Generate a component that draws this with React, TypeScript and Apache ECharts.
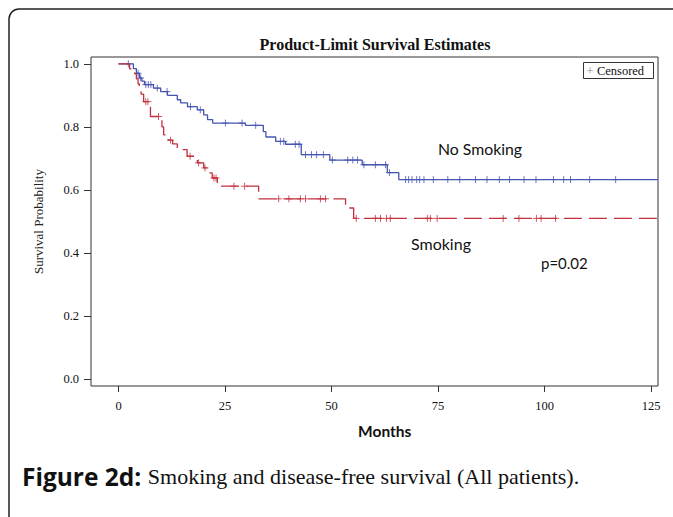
import React, { useEffect, useRef } from "react";
import * as echarts from "echarts";

// ---- Data ----
const xTickValues = [0, 25, 50, 75, 100, 125];
const yTickValues = [0, 0.2, 0.4, 0.6, 0.8, 1.0];

// No Smoking: event times (months) and survival after each event
const noSmokingTimes = [0, 3.5, 4.2, 4.9, 5.5, 6.1, 8.2, 9.9, 11.5, 13.8, 14.6, 16.2, 18.5, 20.0, 20.9, 22.1, 29.8, 34.0, 34.6, 36.9, 39.2, 42.9, 49.6, 57.2, 63.1, 65.8];
const noSmokingSurv = [1.0, 0.985, 0.97, 0.955, 0.945, 0.934, 0.923, 0.912, 0.9, 0.886, 0.876, 0.864, 0.854, 0.838, 0.823, 0.812, 0.805, 0.785, 0.768, 0.754, 0.745, 0.712, 0.695, 0.68, 0.655, 0.633];
const noSmokingCensored = [2.3, 4.6, 5.2, 6.4, 7.0, 7.6, 9.1, 11.4, 16.9, 19.2, 25.1, 29.0, 32.2, 38.0, 38.8, 41.5, 42.4, 43.9, 45.3, 46.5, 48.1, 50.2, 53.8, 55.0, 56.1, 57.6, 60.3, 62.7, 63.6, 67.4, 68.1, 68.9, 70.0, 70.7, 71.7, 73.9, 77.3, 80.1, 83.8, 86.5, 89.4, 91.8, 95.2, 98.0, 102.1, 104.5, 106.1, 110.6, 116.7];

// Smoking
const smokingTimes = [0, 2.6, 3.8, 4.2, 4.6, 4.9, 5.3, 5.9, 7.5, 10.2, 10.6, 11.7, 12.7, 13.8, 16.1, 18.5, 20.0, 20.8, 22.0, 23.2, 32.9, 53.3, 55.2];
const smokingSurv = [1.0, 0.984, 0.968, 0.952, 0.936, 0.92, 0.904, 0.88, 0.833, 0.8, 0.775, 0.758, 0.746, 0.728, 0.707, 0.686, 0.67, 0.654, 0.638, 0.612, 0.572, 0.543, 0.51];
const smokingCensored = [6.4, 6.9, 9.4, 12.2, 16.8, 18.8, 20.3, 22.4, 22.9, 27.1, 29.6, 37.6, 40.0, 42.7, 43.9, 47.4, 48.6, 55.8, 60.3, 61.5, 62.9, 63.8, 72.5, 73.2, 74.8, 90.3, 94.0, 98.1, 99.2, 102.6];

const followUpEnd = 126.6;

const groupNames = ["No Smoking", "Smoking"];
const pValueText = "p=0.02";

// ---- helpers ----
function stepData(times: number[], surv: number[], end: number) {
  const d = times.map((t, i) => [t, surv[i]]);
  d.push([end, surv[surv.length - 1]]);
  return d;
}
function survAt(times: number[], surv: number[], t: number) {
  let s = surv[0];
  for (let i = 0; i < times.length; i++) if (times[i] <= t) s = surv[i];
  return s;
}
function censorData(c: number[], times: number[], surv: number[]) {
  return c.map((t) => [t, survAt(times, surv, t)]);
}

const BLUE = "#4654b2";
const RED = "#c2303e";
const SERIF = "'Liberation Serif', 'Times New Roman', serif";
const SANS = "Lato, 'Open Sans', sans-serif";
const plus = "path://M5,0L5,10M0,5L10,5";

export default function App() {
  const ref = useRef<HTMLDivElement>(null);
  useEffect(() => {
    const chart = echarts.init(ref.current!, null, { renderer: "svg" });
    // frame in pixels
    const fL = 91, fR = 658, fT = 57, fB = 386;
    const x0 = 118.5, x125 = 651; // pixel of 0 and 125 months
    const y0 = 379.3, y1 = 63.8; // pixel of 0.0 and 1.0
    const pxPerMonth = (x125 - x0) / 125;
    const pxPerUnit = y0 - y1;
    const xMinData = (fL - x0) / pxPerMonth;
    const xMaxData = (fR - x0) / pxPerMonth;
    const yMinData = -(fB - y0) / pxPerUnit;
    const yMaxData = (y0 - fT) / pxPerUnit;

    const tickFont = { fontFamily: SERIF, fontSize: 12.5, color: "#111" };

    const option: any = {
      animation: false,
      backgroundColor: "#fff",
      title: {
        text: "Product-Limit Survival Estimates",
        left: 370,
        top: 31,
        textAlign: "center",
        textStyle: { fontFamily: SERIF, fontWeight: "bold", fontSize: 16, color: "#111" },
      },
      grid: [
        { left: fL, right: 673 - fR, top: fT, bottom: 517 - fB, show: true, borderColor: "#333", borderWidth: 1, backgroundColor: "transparent" },
        { left: x0, right: 673 - x125, top: fT, bottom: 517 - fB, show: false },
        { left: fL, right: 673 - fR, top: y1, bottom: 517 - y0, show: false },
      ],
      xAxis: [
        { gridIndex: 0, type: "value", min: xMinData, max: xMaxData, show: false },
        {
          gridIndex: 1, type: "value", min: 0, max: 125, interval: 25, position: "bottom",
          axisLine: { show: false },
          axisTick: { show: true, length: 6, lineStyle: { color: "#333" } },
          axisLabel: { ...tickFont, margin: 13 },
          splitLine: { show: false },
          name: "Months", nameLocation: "middle", nameGap: 37,
          nameTextStyle: { fontFamily: SANS, fontWeight: "bold", fontSize: 15.5, color: "#111" },
        },
        { gridIndex: 2, type: "value", min: 0, max: 1, show: false },
      ],
      yAxis: [
        { gridIndex: 0, type: "value", min: yMinData, max: yMaxData, show: false },
        { gridIndex: 1, type: "value", min: 0, max: 1, show: false },
        {
          gridIndex: 2, type: "value", min: 0, max: 1, interval: 0.2, position: "left",
          axisLine: { show: false },
          axisTick: { show: true, length: 7, lineStyle: { color: "#333" } },
          axisLabel: { ...tickFont, margin: 12, formatter: (v: number) => v.toFixed(1) },
          splitLine: { show: false },
          name: "Survival Probability", nameLocation: "middle", nameRotate: 90, nameGap: 46,
          nameTextStyle: { fontFamily: SERIF, fontSize: 13, color: "#222" },
        },
      ],
      series: [
        {
          name: groupNames[0], type: "line", xAxisIndex: 0, yAxisIndex: 0, step: "end", showSymbol: false,
          data: stepData(noSmokingTimes, noSmokingSurv, followUpEnd),
          lineStyle: { color: BLUE, width: 1.3 }, itemStyle: { color: BLUE },
        },
        {
          name: groupNames[1], type: "line", xAxisIndex: 0, yAxisIndex: 0, step: "end", showSymbol: false,
          data: stepData(smokingTimes, smokingSurv, followUpEnd),
          lineStyle: { color: RED, width: 1.3, type: [18, 7] }, itemStyle: { color: RED },
        },
        {
          name: groupNames[0] + " censored", type: "scatter", xAxisIndex: 0, yAxisIndex: 0,
          symbol: plus, symbolSize: 7,
          data: censorData(noSmokingCensored, noSmokingTimes, noSmokingSurv),
          itemStyle: { color: "transparent", borderColor: BLUE, borderWidth: 1 },
        },
        {
          name: groupNames[1] + " censored", type: "scatter", xAxisIndex: 0, yAxisIndex: 0,
          symbol: plus, symbolSize: 7,
          data: censorData(smokingCensored, smokingTimes, smokingSurv),
          itemStyle: { color: "transparent", borderColor: RED, borderWidth: 1 },
        },
      ],
      graphic: [
        {
          type: "rect", silent: true, z: -1,
          shape: { x: 9, y: 9, width: 720, height: 560, r: 10 },
          style: { fill: "none", stroke: "#222", lineWidth: 1.5 },
        },
        {
          type: "group", left: 583, top: 62,
          children: [
            { type: "rect", shape: { x: 0, y: 0, width: 70, height: 16 }, style: { fill: "#fff", stroke: "#333", lineWidth: 1 } },
            {
              type: "text", x: 3, y: 8.5,
              style: {
                text: "{p|+} {c|Censored}", verticalAlign: "middle",
                rich: {
                  p: { fontFamily: SERIF, fontSize: 12.5, fill: "#888" },
                  c: { fontFamily: SERIF, fontSize: 12.5, fill: "#111" },
                },
              },
            },
          ],
        },
        { type: "text", x: 438, y: 148, style: { text: groupNames[0], fontFamily: SANS, fontSize: 15.8, fill: "#111", verticalAlign: "middle" } },
        { type: "text", x: 411, y: 243, style: { text: groupNames[1], fontFamily: SANS, fontSize: 16, fill: "#111", verticalAlign: "middle" } },
        { type: "text", x: 541, y: 263, style: { text: pValueText, fontFamily: SANS, fontSize: 15, fill: "#111", verticalAlign: "middle" } },
        {
          type: "text", x: 22, y: 476,
          style: {
            text: "{b|Figure 2d:}{s| Smoking and disease-free survival (All patients).}",
            verticalAlign: "middle",
            rich: {
              b: { fontFamily: "'Open Sans', sans-serif", fontWeight: "bold", fontSize: 24.5, fill: "#111", padding: [0, 1, 0, 0] },
              s: { fontFamily: SERIF, fontSize: 22, fill: "#111" },
            },
          },
        },
      ],
    };
    chart.setOption(option);
    return () => chart.dispose();
  }, []);
  return (
    <div
      ref={ref}
      style={{ position: "fixed", left: 0, top: 0, width: 673, height: 517, background: "#fff" }}
    />
  );
}
